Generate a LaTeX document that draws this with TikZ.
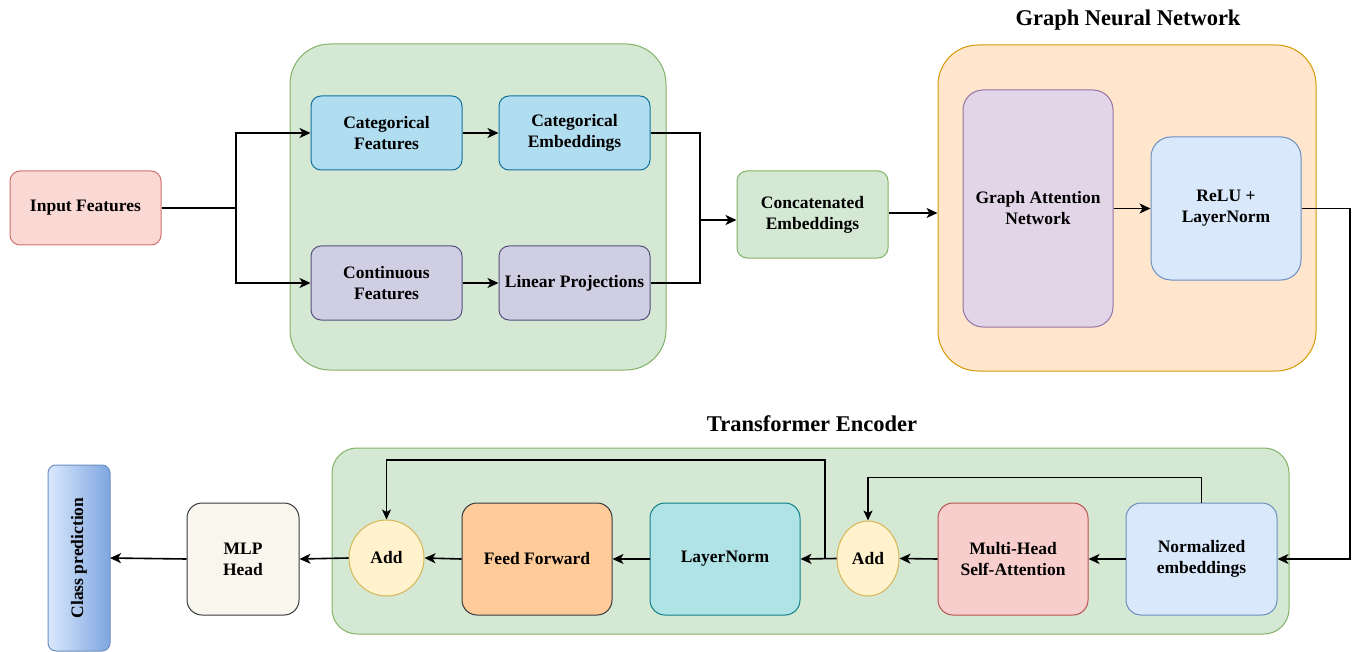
\documentclass[tikz,border=0pt]{standalone}
\usepackage{fontspec}
\setmainfont{Liberation Serif}
\usetikzlibrary{arrows.meta,shapes.geometric,calc}

\definecolor{inFill}{HTML}{FAD9D5}\definecolor{inLine}{HTML}{D0706A}
\definecolor{catFill}{HTML}{B1DDF0}\definecolor{catLine}{HTML}{10739E}
\definecolor{conFill}{HTML}{D0CEE2}\definecolor{conLine}{HTML}{56517E}
\definecolor{grFill}{HTML}{D5E8D4}\definecolor{grLine}{HTML}{82B366}
\definecolor{orFill}{HTML}{FFE6CC}\definecolor{orLine}{HTML}{D79B00}
\definecolor{puFill}{HTML}{E1D5E7}\definecolor{puLine}{HTML}{9673A6}
\definecolor{blFill}{HTML}{DAE8FC}\definecolor{blLine}{HTML}{6C8EBF}
\definecolor{rdFill}{HTML}{F8CECC}\definecolor{rdLine}{HTML}{B85450}
\definecolor{yeFill}{HTML}{FFF2CC}\definecolor{yeLine}{HTML}{D6B656}
\definecolor{tlFill}{HTML}{B0E3E6}\definecolor{tlLine}{HTML}{0E8088}
\definecolor{ffFill}{HTML}{FFCC99}\definecolor{dkLine}{HTML}{36393D}
\definecolor{mlFill}{HTML}{F9F7ED}
\definecolor{gradR}{HTML}{7EA6E0}

\begin{document}
\begin{tikzpicture}[x=1pt,y=-1pt,
  every node/.style={font=\fontsize{17.5}{21}\selectfont\bfseries, align=center, inner sep=0pt},
  blk/.style={draw, line width=1pt, rounded corners=10pt},
  group/.style={draw, line width=1pt},
  title/.style={font=\fontsize{22.5}{26}\selectfont\bfseries},
  addnode/.style={ellipse, draw=yeLine, fill=yeFill, line width=1pt, minimum width=62pt, minimum height=75pt},
  flow/.style={line width=1.6pt, -{Stealth[length=11pt,width=10pt,inset=3pt]}},
  link/.style={line width=1.6pt},
  skip/.style={line width=1.1pt, -{Stealth[length=10pt,width=9pt,inset=2.5pt]}}
]
\useasboundingbox (0,0) rectangle (1356,652);

% group containers
\node[group, fill=grFill, draw=grLine, rounded corners=40pt, minimum width=376pt, minimum height=326pt] (embg) at (478,207) {};
\node[group, fill=orFill, draw=orLine, rounded corners=40pt, minimum width=378pt, minimum height=326pt] (gnn) at (1127,208) {};
\node[group, fill=grFill, draw=grLine, rounded corners=25pt, minimum width=957pt, minimum height=186pt] (enc) at (810.5,541) {};
\node[title] (gnnt) at (1128,20) {Graph Neural Network};
\node[title] (enct) at (812,424) {Transformer Encoder};

% feature embedding stage
\node[blk, fill=inFill, draw=inLine, minimum width=151pt, minimum height=74pt] (inp) at (85.5,208) {Input Features};
\node[blk, fill=catFill, draw=catLine, minimum width=151pt, minimum height=74pt] (catf) at (386.5,133) {Categorical\\Features};
\node[blk, fill=catFill, draw=catLine, minimum width=151pt, minimum height=74pt] (cate) at (574.5,133) {Categorical\\Embeddings};
\node[blk, fill=conFill, draw=conLine, minimum width=151pt, minimum height=74pt] (conf) at (386.5,283) {Continuous\\Features};
\node[blk, fill=conFill, draw=conLine, minimum width=151pt, minimum height=74pt] (lin) at (574.5,283) {Linear Projections};
\node[blk, fill=grFill, draw=grLine, minimum width=151pt, minimum height=87pt] (cat) at (812.5,214.5) {Concatenated\\Embeddings};

% graph neural network
\node[blk, fill=puFill, draw=puLine, rounded corners=20pt, minimum width=150pt, minimum height=237pt] (gat) at (1038,208.5) {Graph Attention\\Network};
\node[blk, fill=blFill, draw=blLine, rounded corners=20pt, minimum width=150pt, minimum height=143pt] (relu) at (1226,208.5) {ReLU +\\LayerNorm};

% transformer encoder
\node[blk, fill=blFill, draw=blLine, rounded corners=15pt, minimum width=151pt, minimum height=112pt] (norm) at (1201.5,559) {Normalized\\embeddings};
\node[blk, fill=rdFill, draw=rdLine, rounded corners=15pt, minimum width=150pt, minimum height=112pt] (mhsa) at (1013,559) {Multi-Head\\Self-Attention};
\node[addnode] (add1) at (868,558.5) {Add};
\node[blk, fill=tlFill, draw=tlLine, rounded corners=15pt, minimum width=150pt, minimum height=112pt] (ln) at (725,559) {LayerNorm};
\node[blk, fill=ffFill, draw=dkLine, rounded corners=15pt, minimum width=150pt, minimum height=112pt] (ff) at (537,559) {Feed Forward};
\node[addnode, minimum width=75pt, minimum height=76pt] (add2) at (386.5,558) {Add};
\node[blk, fill=mlFill, draw=dkLine, rounded corners=15pt, minimum width=112pt, minimum height=112pt] (mlp) at (243,559) {MLP\\Head};

% output
\path[rounded corners=8pt, left color=blFill, right color=gradR] (48,465) rectangle (110,651);
\draw[blLine, line width=1pt, rounded corners=8pt] (48,465) rectangle (110,651);
\node[rotate=90] (cls) at (79,558) {Class prediction};
\coordinate (clsE) at (110,558);

% connectors: embedding stage
\coordinate (fork) at (236,208);
\draw[link] (inp.east) -- (fork);
\draw[flow] (fork) |- (catf.west);
\draw[flow] (fork) |- (conf.west);
\draw[flow] (catf.east) -- (cate.west);
\draw[flow] (conf.east) -- (lin.west);
\coordinate (merge) at (700,220);
\draw[link] (cate.east) -| (merge);
\draw[link] (lin.east) -| (merge);
\draw[flow] (merge) -- (merge -| cat.west);
\draw[flow] (cat.east |- 0,213) -- (gnn.west |- 0,213);
\draw[flow] (gat.east) -- (relu.west);

% connectors: down into the encoder
\coordinate (rturn) at (1350,208.5);
\draw[flow] (relu.east) -- (rturn) |- (norm.east);

% connectors: encoder
\draw[flow] (norm.west) -- (mhsa.east);
\draw[flow] (mhsa.west) -- (add1.east);
\draw[flow] (add1.west) -- (ln.east);
\draw[flow] (ln.west) -- (ff.east);
\draw[flow] (ff.west) -- (add2.east);
\draw[flow] (add2.west) -- (mlp.east);
\draw[flow] (mlp.west) -- (clsE);

% residual connections
\draw[skip] (norm.north) -- ++(0,-25) -| (add1.north);
\coordinate (tap) at (825,558.5);
\draw[skip] (tap) -- (825,460) -| (add2.north);
\end{tikzpicture}
\end{document}
